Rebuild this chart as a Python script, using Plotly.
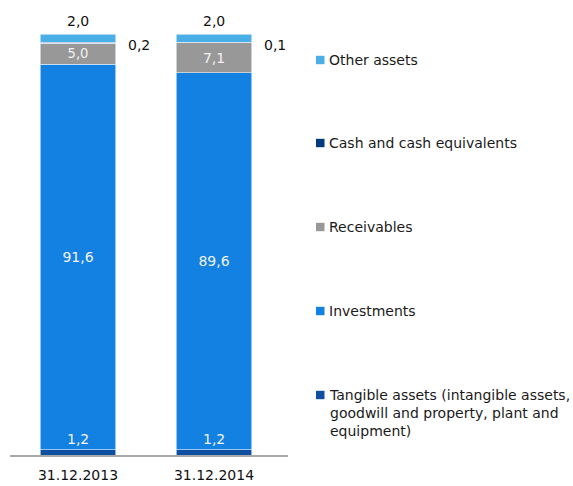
import plotly.graph_objects as go

# Balance sheet structure, % of total assets
dates = ["31.12.2013", "31.12.2014"]
tangible = [1.2, 1.2]
investments = [91.6, 89.6]
receivables = [5.0, 7.1]
cash = [0.2, 0.1]
other = [2.0, 2.0]

series_names = [
    "Tangible assets (intangible assets,<br>goodwill and property, plant and<br>equipment)",
    "Investments",
    "Receivables",
    "Cash and cash equivalents",
    "Other assets",
]
series_values = [tangible, investments, receivables, cash, other]
series_colors = ["#0e4f9f", "#1381e1", "#989898", "#013a7b", "#4bafe7"]

FONT = "DejaVu Sans"
W, H = 573, 486
M_L, M_R, M_T, M_B = 10, 285, 34, 31
PW, PH = W - M_L - M_R, H - M_T - M_B


def px_x(x):
    return (x - M_L) / PW


def px_y(y):
    return (H - M_B - y) / PH


def fmt(v):
    return f"{v:.1f}".replace(".", ",")


fig = go.Figure()
inside_labels = {"Investments", "Receivables"}
for name, vals, col in zip(series_names, series_values, series_colors):
    show_text = name in inside_labels
    fig.add_trace(go.Bar(
        x=dates, y=vals, name=name,
        marker=dict(color=col, line=dict(color="rgba(225,238,250,0.8)", width=0.8)),
        texttemplate="%{y:.1f}" if show_text else None,
        textposition="inside" if show_text else "none",
        insidetextanchor="middle",
        textfont=dict(family=FONT, size=14, color="#f2f2f2"),
        showlegend=False,
        hoverinfo="skip",
    ))

annotations = []
for i, d in enumerate(dates):
    total = tangible[i] + investments[i] + receivables[i] + cash[i] + other[i]
    cash_top = tangible[i] + investments[i] + receivables[i] + cash[i]
    # "Other assets" value above the bar
    annotations.append(dict(x=d, y=total, text=fmt(other[i]), showarrow=False,
                            yanchor="bottom", yshift=3,
                            font=dict(family=FONT, size=14, color="#111")))
    # cash value to the right of the bar
    annotations.append(dict(x=d, y=cash_top, text=fmt(cash[i]), showarrow=False,
                            xanchor="center", yanchor="middle", xshift=61, yshift=-3,
                            font=dict(family=FONT, size=14, color="#111")))
    # tangible assets value just above the thin bottom segment
    annotations.append(dict(x=d, y=tangible[i], text=fmt(tangible[i]), showarrow=False,
                            yanchor="bottom", yshift=1,
                            font=dict(family=FONT, size=14, color="#f2f2f2")))

# Custom legend on the right
legend_rows = [395, 311, 227, 143, 60]
shapes = []
for name, col, yc in zip(series_names, series_colors, legend_rows):
    shapes.append(dict(type="rect", xref="paper", yref="paper",
                       x0=px_x(316), x1=px_x(324.5), y0=px_y(yc + 4.2), y1=px_y(yc - 4.2),
                       fillcolor=col, line=dict(width=0)))
    annotations.append(dict(xref="paper", yref="paper", x=px_x(327), y=px_y(yc - 10),
                            xanchor="left", yanchor="top", align="left", showarrow=False,
                            text=name, font=dict(family=FONT, size=14, color="#1a1a1a")))

fig.update_layout(
    barmode="stack",
    bargap=0.445,
    width=W, height=H,
    margin=dict(l=M_L, r=M_R, t=M_T, b=M_B, pad=0),
    paper_bgcolor="white", plot_bgcolor="white",
    separators=", ",
    annotations=annotations,
    shapes=shapes,
    xaxis=dict(showline=True, linecolor="#a9a9a9", linewidth=2, ticks="",
               ticklabelstandoff=6, automargin=False,
               tickfont=dict(family=FONT, size=14, color="#111"), showgrid=False),
    yaxis=dict(range=[0, 100], visible=False, showgrid=False, automargin=False),
)

fig.write_html("out.html")
